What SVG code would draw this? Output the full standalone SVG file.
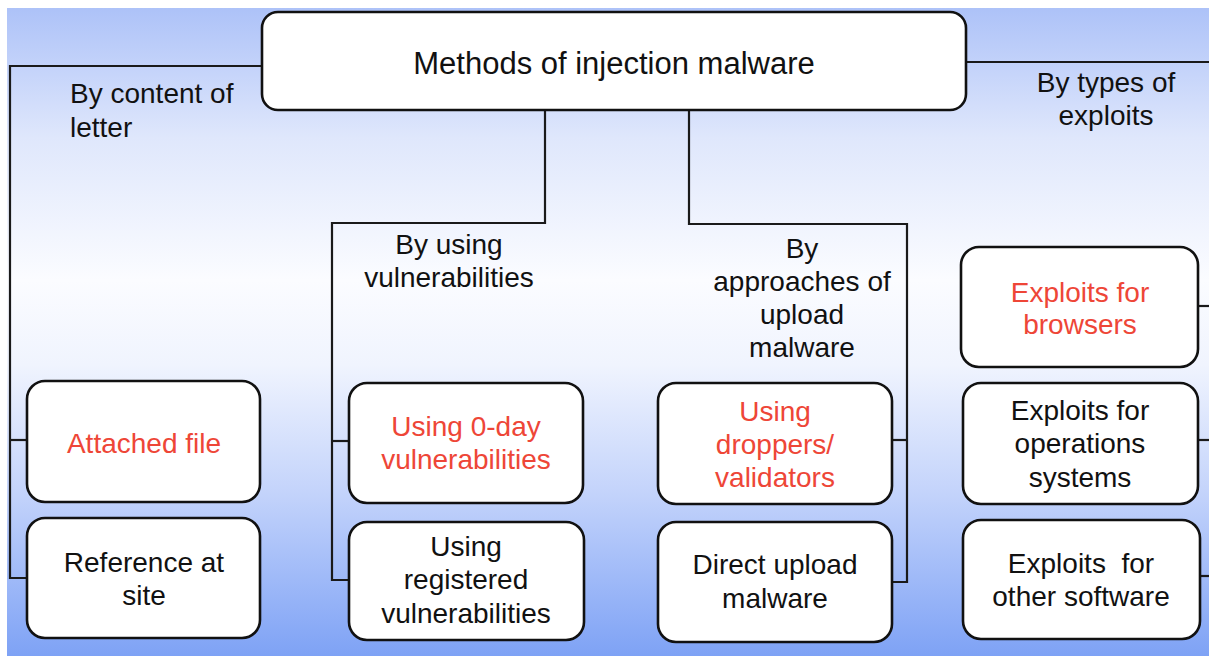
<svg xmlns="http://www.w3.org/2000/svg" width="1209" height="656" viewBox="0 0 1209 656">
<defs>
<linearGradient id="bg" x1="0" y1="0" x2="0" y2="1">
<stop offset="0" stop-color="#adc2f8"/>
<stop offset="0.2" stop-color="#dfe7fc"/>
<stop offset="0.42" stop-color="#fbfcff"/>
<stop offset="0.55" stop-color="#f0f4fe"/>
<stop offset="0.75" stop-color="#c3d3fb"/>
<stop offset="1" stop-color="#7ea2f5"/>
</linearGradient>
<style>
.box{fill:#fff;stroke:#111;stroke-width:2.6}
.ln{fill:none;stroke:#1a1a1a;stroke-width:2.2}
text{font-family:"Liberation Sans",Arial,sans-serif;font-size:28px;fill:#111}
.c{text-anchor:middle}
.red{fill:#ee4637}
</style>
</defs>
<rect x="0" y="0" width="1209" height="656" fill="#fff"/>
<rect x="7" y="8" width="1202" height="648" fill="url(#bg)"/>
<g id="connectors">
<polyline class="ln" points="262,66 10,66 10,578 27,578"/>
<line class="ln" x1="10" y1="440" x2="27" y2="440"/>
<polyline class="ln" points="545,110 545,223 332,223 332,580 349,580"/>
<line class="ln" x1="332" y1="441" x2="349" y2="441"/>
<polyline class="ln" points="689,110 689,224 907,224 907,582 892,582"/>
<line class="ln" x1="892" y1="440" x2="907" y2="440"/>
<line class="ln" x1="966" y1="62" x2="1209" y2="62"/>
<line class="ln" x1="1198" y1="306" x2="1209" y2="306"/>
<line class="ln" x1="1198" y1="440" x2="1209" y2="440"/>
<line class="ln" x1="1200" y1="576" x2="1209" y2="576"/>
</g>
<g id="labels">
<text x="70" y="103">By content of</text>
<text x="70" y="137">letter</text>
<text class="c" x="1106" y="92">By types of</text>
<text class="c" x="1106" y="125">exploits</text>
<text class="c" x="449" y="254">By using</text>
<text class="c" x="449" y="287">vulnerabilities</text>
<text class="c" x="802" y="258">By</text>
<text class="c" x="802" y="291">approaches of</text>
<text class="c" x="802" y="324">upload</text>
<text class="c" x="802" y="357">malware</text>
</g>
<g id="root">
<rect class="box" x="262" y="12" width="704" height="98" rx="16"/>
<text class="c" x="614" y="74" style="font-size:31px">Methods of injection malware</text>
</g>
<g id="attached">
<rect class="box" x="27" y="381" width="233" height="121" rx="18"/>
<text class="c red" x="144" y="453">Attached file</text>
</g>
<g id="reference">
<rect class="box" x="27" y="518" width="233" height="120" rx="18"/>
<text class="c" x="144" y="572">Reference at</text>
<text class="c" x="144" y="605">site</text>
</g>
<g id="zeroday">
<rect class="box" x="349" y="383" width="234" height="120" rx="18"/>
<text class="c red" x="466" y="436">Using 0-day</text>
<text class="c red" x="466" y="469">vulnerabilities</text>
</g>
<g id="registered">
<rect class="box" x="349" y="522" width="235" height="118" rx="18"/>
<text class="c" x="466" y="556">Using</text>
<text class="c" x="466" y="589">registered</text>
<text class="c" x="466" y="623">vulnerabilities</text>
</g>
<g id="droppers">
<rect class="box" x="658" y="383" width="234" height="121" rx="18"/>
<text class="c red" x="775" y="421">Using</text>
<text class="c red" x="775" y="454">droppers/</text>
<text class="c red" x="775" y="487">validators</text>
</g>
<g id="direct">
<rect class="box" x="658" y="522" width="234" height="120" rx="18"/>
<text class="c" x="775" y="574">Direct upload</text>
<text class="c" x="775" y="608">malware</text>
</g>
<g id="browsers">
<rect class="box" x="961" y="247" width="237" height="120" rx="18"/>
<text class="c red" x="1080" y="302">Exploits for</text>
<text class="c red" x="1080" y="334">browsers</text>
</g>
<g id="os">
<rect class="box" x="963" y="383" width="235" height="121" rx="18"/>
<text class="c" x="1080" y="420">Exploits for</text>
<text class="c" x="1080" y="453">operations</text>
<text class="c" x="1080" y="487">systems</text>
</g>
<g id="other">
<rect class="box" x="963" y="520" width="237" height="119" rx="18"/>
<text class="c" x="1081" y="573" xml:space="preserve">Exploits  for</text>
<text class="c" x="1081" y="606">other software</text>
</g>
</svg>
